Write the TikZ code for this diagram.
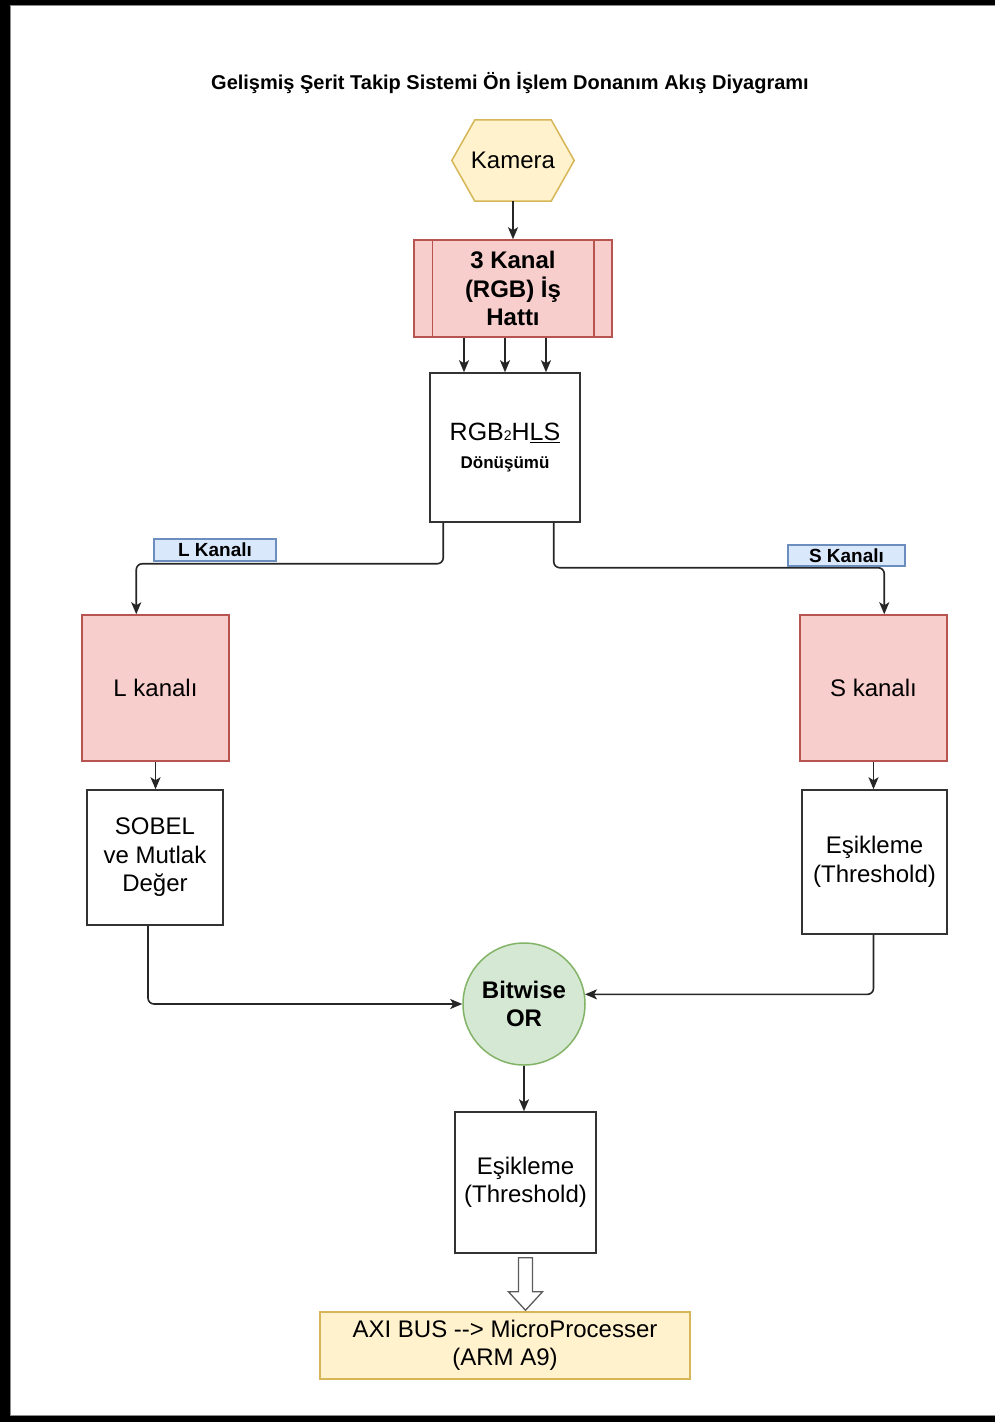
\documentclass[tikz,border=0pt]{standalone}
\usepackage{fontspec}
\setmainfont{Liberation Sans}
\usetikzlibrary{arrows.meta,calc,backgrounds}
\definecolor{yfill}{HTML}{FFF2CC}\definecolor{ydraw}{HTML}{D6B656}
\definecolor{rfill}{HTML}{F8CECC}\definecolor{rdraw}{HTML}{B85450}
\definecolor{bfill}{HTML}{DAE8FC}\definecolor{bdraw}{HTML}{6C8EBF}
\definecolor{gfill}{HTML}{D5E8D4}\definecolor{gdraw}{HTML}{82B366}
\definecolor{ink}{HTML}{333333}
\begin{document}
\begin{tikzpicture}[x=1pt,y=-1pt,
  every node/.style={inner sep=0pt, align=center, font=\fontsize{24}{28.5}\selectfont},
  box/.style={draw=ink, line width=1.5pt, fill=white},
  redbox/.style={draw=rdraw, fill=rfill, line width=1.5pt},
  yelbox/.style={draw=ydraw, fill=yfill, line width=1.5pt},
  tag/.style={draw=bdraw, fill=bfill, line width=1.2pt, font=\bfseries\fontsize{19}{22}\selectfont},
  conn/.style={draw=black!85, line width=1.6pt, rounded corners=6pt},
  arr/.style={conn, -{Stealth[length=12pt,width=10pt,inset=3pt]}},
  hollow/.style={draw=ink!80, fill=white, line width=1.3pt, line join=miter},
]
\useasboundingbox (0,0) rectangle (995,1422);

% page frame
\begin{scope}[on background layer]
  \fill[black] (0,0) rectangle (995,1422);
  \fill[white] (10,5) rectangle (995,1416);
  \draw[black!45, line width=1pt] (10.5,1415.5) -- (10.5,5.5) -- (995,5.5);
  \draw[black!45, line width=1pt] (10.5,1415.5) -- (995,1415.5);
\end{scope}

% title
\node[font=\bfseries\fontsize{20}{24}\selectfont] (title) at (510,83)
  {Gelişmiş Şerit Takip Sistemi Ön İşlem Donanım Akış Diyagramı};

% camera (hexagon)
\node[minimum width=122pt, minimum height=81pt] (cam) at (513,160.5) {Kamera};
\begin{scope}[on background layer]
  \draw[draw=ydraw, fill=yfill, line width=1.5pt, line join=miter]
    (cam.west) -- ([xshift=23pt]cam.north west) -- ([xshift=-23pt]cam.north east)
    -- (cam.east) -- ([xshift=-23pt]cam.south east) -- ([xshift=23pt]cam.south west)
    -- cycle;
\end{scope}

% 3-channel pipeline (process box)
\node[redbox, minimum width=198pt, minimum height=97pt,
      font=\bfseries\fontsize{24}{28.5}\selectfont] (k3) at (513,288.5)
  {3 Kanal\\(RGB) İş\\Hattı};
\draw[draw=rdraw, line width=1.5pt]
  ([xshift=19pt]k3.north west) -- ([xshift=19pt]k3.south west)
  ([xshift=-19pt]k3.north east) -- ([xshift=-19pt]k3.south east);

% colour space conversion
\node[box, minimum width=150pt, minimum height=149pt] (rgb) at (505,447.5)
  {{\fontsize{25}{28}\selectfont RGB{\fontsize{14}{14}\selectfont 2}H\underline{LS}}\\[0pt]
   {\bfseries\fontsize{17}{20}\selectfont Dönüşümü}};

% channel boxes
\node[redbox, minimum width=147pt, minimum height=146pt] (lk) at (155.5,688) {L kanalı};
\node[redbox, minimum width=147pt, minimum height=146pt] (sk) at (873.5,688) {S kanalı};

\node[box, minimum width=136pt, minimum height=135pt] (sobel) at (155,857.5)
  {SOBEL\\ve Mutlak\\Değer};
\node[box, minimum width=145pt, minimum height=144pt] (thr1) at (874.5,862)
  {Eşikleme\\(Threshold)};

\node[circle, draw=gdraw, fill=gfill, line width=1.5pt, minimum size=122pt,
      font=\bfseries\fontsize{24}{28.5}\selectfont] (or) at (524,1004) {Bitwise\\OR};

\node[box, minimum width=141pt, minimum height=141pt] (thr2) at (525.5,1182.5)
  {Eşikleme\\(Threshold)};

\node[yelbox, minimum width=370pt, minimum height=67pt] (axi) at (505,1345.5)
  {AXI BUS {-}{-}> MicroProcesser\\(ARM A9)};

% connectors
\draw[arr] (cam.south) -- (k3.north);
\foreach \dx in {-41,0,41}
  \draw[arr] ([xshift=\dx pt]rgb.north |- k3.south) -- ([xshift=\dx pt]rgb.north);

\draw[arr] ([xshift=14pt]rgb.south west) -- ++(0,41) -| ([xshift=55pt]lk.north west);
\draw[arr] ([xshift=-27pt]rgb.south east) -- ++(0,45) -| ([xshift=85pt]sk.north west);

\node[tag, minimum width=122pt, minimum height=22pt] (ltag) at (215,550) {L Kanalı};
\node[tag, minimum width=117pt, minimum height=21pt] (stag) at (846.5,555.5) {S Kanalı};

\draw[arr] (lk.south) -- (lk.south |- sobel.north);
\draw[arr] (sk.south) -- (sk.south |- thr1.north);

\draw[arr] ([xshift=-7pt]sobel.south) |- (or.west);
\draw[arr] ([xshift=-1pt]thr1.south) |- (or.9);

\draw[arr] (or.south) -- (or.south |- thr2.north);

% hollow block arrow to the bus
\draw[hollow]
  ($(thr2.south)+(-7,4)$) -- ($(thr2.south)+(-7,38)$) -- ($(thr2.south)+(-17,38)$)
  -- ($(thr2.south |- axi.north)+(0,-1)$)
  -- ($(thr2.south)+(17,38)$) -- ($(thr2.south)+(7,38)$) -- ($(thr2.south)+(7,4)$) -- cycle;
\end{tikzpicture}
\end{document}
